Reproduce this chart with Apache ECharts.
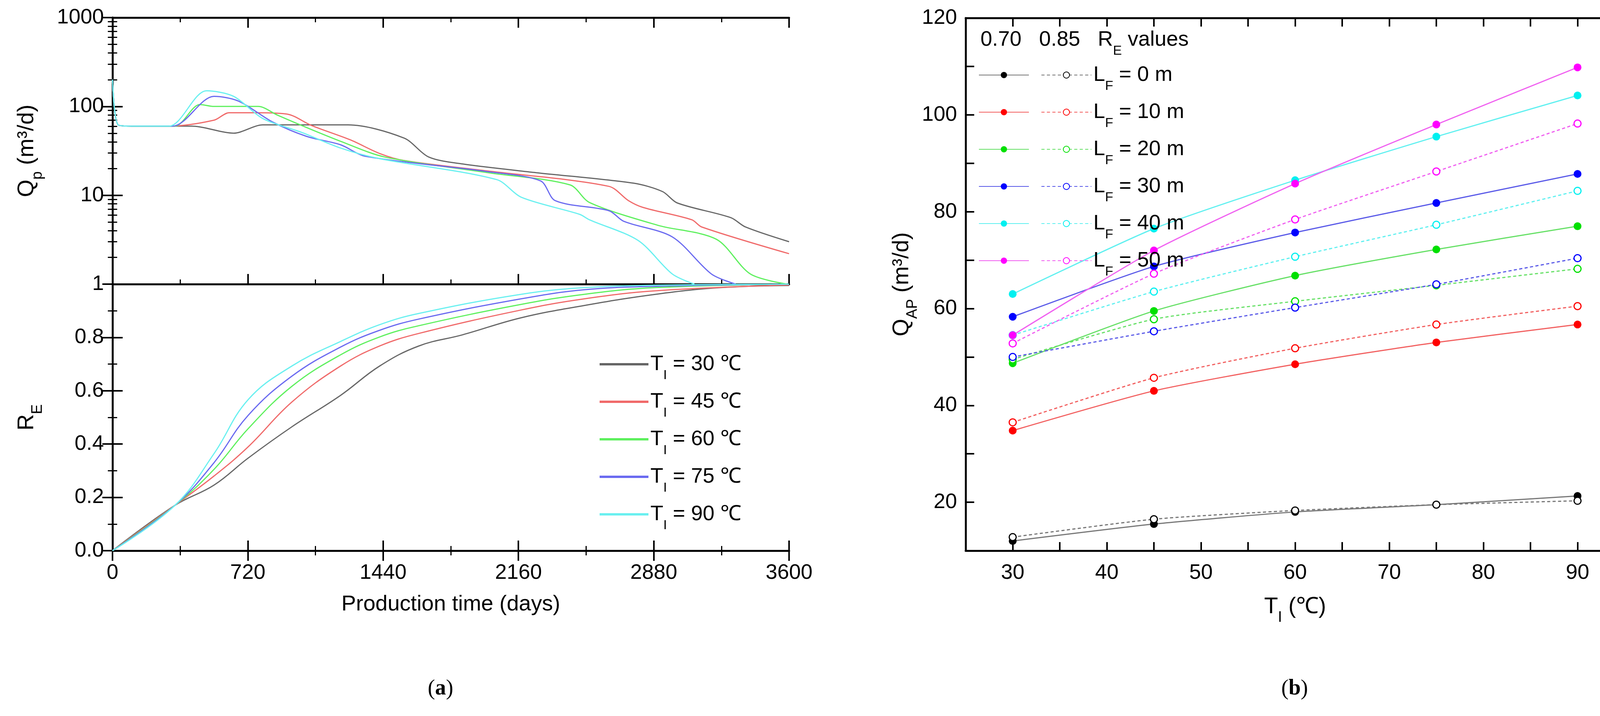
<!DOCTYPE html>
<html><head><meta charset="utf-8">
<script src="https://cdn.jsdelivr.net/npm/echarts@6/dist/echarts.min.js"></script>
<style>html,body{margin:0;background:#fff}#c{width:4186px;height:1832px}</style>
</head><body><div id="c"></div>
<script>
// ---------- Panel (a) data ----------
const tempLabels = ['30','45','60','75','90'];
const qp30 = [[0,200],[30,62],[100,60],[300,60],[423,60],[644,50],[800,62],[1000,62],[1253,62],[1552,44],[1682,27],[1863,22.5],[2252,18],[2771,13.7],[2927,11],[3005,8.2],[3290,5.6],[3368,4.4],[3600,3.0]];
const qp45 = [[0,200],[30,62],[100,60],[300,60],[540,70],[620,85],[775,85],[930,82],[1059,61],[1266,42],[1422,29.5],[1552,24.6],[1993,18.8],[2642,12.6],[2746,8.7],[2823,7.3],[3083,5.3],[3135,4.4],[3600,2.2]];
const qp60 = [[0,200],[30,62],[100,60],[330,60],[465,105],[540,100],[775,100],[877,80],[1007,61],[1214,40.5],[1448,27],[1993,18],[2434,13.1],[2538,8.3],[2901,4.6],[3213,3.2],[3394,1.3],[3590,1]];
const qp75 = [[0,200],[30,62],[100,60],[320,60],[540,130],[670,115],[851,67],[1033,46],[1214,37],[1344,27.5],[1993,18.5],[2278,14.5],[2356,8.7],[2642,6.7],[2720,5.1],[2979,3.4],[3187,1.3],[3316,1]];
const qp90 = [[0,200],[30,62],[100,60],[300,60],[500,150],[644,130],[800,73],[1007,51],[1214,34],[1422,25.8],[2045,15],[2175,9.5],[2486,6.1],[2538,5.3],[2797,3.1],[2979,1.3],[3096,1]];
const re30 = [[0,0],[332,0.17],[540,0.246],[721,0.347],[955,0.465],[1214,0.583],[1422,0.693],[1630,0.768],[1863,0.81],[2175,0.874],[2512,0.92],[2891,0.962],[3239,0.987],[3600,0.995]];
const re45 = [[0,0],[332,0.17],[540,0.28],[721,0.389],[955,0.558],[1214,0.693],[1422,0.768],[1630,0.815],[2175,0.903],[2512,0.945],[2891,0.975],[3600,0.997]];
const re60 = [[0,0],[332,0.17],[540,0.305],[721,0.457],[955,0.617],[1214,0.735],[1422,0.802],[1630,0.844],[2175,0.924],[2512,0.962],[2891,0.987],[3600,1]];
const re75 = [[0,0],[332,0.17],[540,0.33],[721,0.507],[955,0.655],[1214,0.764],[1422,0.827],[1630,0.869],[2175,0.945],[2512,0.979],[2891,0.992],[3600,1]];
const re90 = [[0,0],[332,0.17],[540,0.364],[721,0.566],[955,0.693],[1214,0.785],[1422,0.848],[1630,0.89],[2175,0.962],[2512,0.987],[2891,0.996],[3600,1]];
// ---------- Panel (b) data ----------
const tiValues = [30,45,60,75,90];
const lfLabels = ['0','10','20','30','40','50'];
const q070 = [
  [12,15.5,18,19.5,21.3],
  [34.8,43,48.5,53,56.7],
  [48.7,59.5,66.8,72.2,77],
  [58.3,68.7,75.7,81.8,87.8],
  [63,76.5,86.5,95.5,104],
  [54.5,72,85.8,98,109.8]];
const q085 = [
  [12.8,16.5,18.3,19.5,20.3],
  [36.5,45.7,51.8,56.7,60.5],
  [49.5,57.8,61.5,64.8,68.2],
  [50,55.3,60.2,65,70.4],
  [54.5,63.5,70.7,77.3,84.3],
  [52.8,67.2,78.4,88.3,98.2]];

const FONT = "'Liberation Sans Narrow','Liberation Sans',Arial,sans-serif";
const TF = "'Liberation Sans',Arial,sans-serif";
const aColors = ['#666666','#f06a6a','#5ef05e','#6a6af0','#6af0f0'];
const bLine = ['#777777','#f26060','#66e066','#5a5ae8','#60f0f0','#f060f0'];
const bMark = ['#000000','#ff0000','#00e000','#0000ff','#00f0f0','#ff00ff'];
const fs = 54;
const axLine = {lineStyle:{color:'#000',width:5}};
const tickIn = {show:true,inside:true,length:22,lineStyle:{color:'#000',width:4}};
const minorIn = {show:true,splitNumber:2,length:12,lineStyle:{color:'#000',width:3}};
const lbl = {fontFamily:FONT,fontSize:fs,color:'#000'};
const plain = v=>String(v);

const chart = echarts.init(document.getElementById('c'));
const qps=[qp30,qp45,qp60,qp75,qp90], res=[re30,re45,re60,re75,re90];
const series=[];
tempLabels.forEach((t,i)=>{
  series.push({name:'T'+t,type:'line',xAxisIndex:0,yAxisIndex:0,data:qps[i],showSymbol:false,smooth:0.3,lineStyle:{color:aColors[i],width:3},color:aColors[i]});
  series.push({name:'R'+t,type:'line',xAxisIndex:2,yAxisIndex:2,data:res[i],showSymbol:false,smooth:0.4,lineStyle:{color:aColors[i],width:3},color:aColors[i],z:3});
});
lfLabels.forEach((l,i)=>{
  series.push({name:'s'+l,type:'line',xAxisIndex:4,yAxisIndex:4,data:tiValues.map((x,j)=>[x,q070[i][j]]),smooth:0.2,
    symbol:'circle',symbolSize:20,itemStyle:{color:bMark[i]},lineStyle:{color:bLine[i],width:3}});
  series.push({name:'d'+l,type:'line',xAxisIndex:4,yAxisIndex:4,data:tiValues.map((x,j)=>[x,q085[i][j]]),smooth:0.2,
    symbol:'circle',symbolSize:18,itemStyle:{color:'#fff',borderColor:bMark[i],borderWidth:3},lineStyle:{color:bLine[i],width:3,type:[8,6]}});
});
const mkRich = (c)=>({t:{fontFamily:FONT,fontSize:fs,color:c,lineHeight:60},s:{fontFamily:FONT,fontSize:34,color:c,verticalAlign:'bottom',lineHeight:60,padding:[0,0,-16,0]}});
const subRich = mkRich('#000');
const titleRich = {t:{fontFamily:TF,fontSize:58,color:'#000'},s:{fontFamily:TF,fontSize:38,color:'#000',verticalAlign:'bottom',padding:[0,0,-18,0]}};
chart.setOption({
  animation:false,
  grid:[
    {left:288,width:1732,top:45,height:682},
    {left:288,width:1732,top:727,height:682},
    {left:2472,width:1687,top:46,height:1363}],
  xAxis:[
    {gridIndex:0,type:'value',min:0,max:3600,interval:720,position:'bottom',axisLine:axLine,axisTick:{...tickIn,length:26},minorTick:minorIn,axisLabel:{show:false},splitLine:{show:false}},
    {gridIndex:0,type:'value',min:0,max:3600,interval:720,position:'top',axisLine:axLine,axisTick:{...tickIn,length:26},minorTick:minorIn,axisLabel:{show:false},splitLine:{show:false}},
    {gridIndex:1,type:'value',min:0,max:3600,interval:720,position:'bottom',axisLine:axLine,axisTick:{...tickIn,length:26},minorTick:minorIn,axisLabel:{...lbl,margin:30,formatter:plain},splitLine:{show:false},
      name:'Production time (days)',nameLocation:'middle',nameGap:110,nameTextStyle:{fontFamily:TF,fontSize:56,color:'#000'}},
    {gridIndex:1,type:'value',min:0,max:3600,interval:720,position:'top',axisLine:axLine,axisTick:{...tickIn,length:26},minorTick:minorIn,axisLabel:{show:false},splitLine:{show:false}},
    {gridIndex:2,type:'value',min:25,max:95,interval:5,position:'bottom',axisLine:axLine,axisTick:tickIn,axisLabel:{...lbl,margin:30,formatter:v=>v%10===0?String(v):''},splitLine:{show:false},
      name:'{t|T}{s|I}{t| (℃)}',nameLocation:'middle',nameGap:115,nameTextStyle:{rich:titleRich}},
    {gridIndex:2,type:'value',min:25,max:95,interval:5,position:'top',axisLine:axLine,axisTick:tickIn,axisLabel:{show:false},splitLine:{show:false}}],
  yAxis:[
    {gridIndex:0,type:'log',min:1,max:1000,logBase:10,position:'left',axisLine:axLine,axisTick:{...tickIn,length:26},minorTick:{show:true,splitNumber:9,length:12,lineStyle:{color:'#000',width:3}},axisLabel:{...lbl,margin:22,formatter:plain},splitLine:{show:false},
      name:'{t|Q}{s|p}{t| (m³/d)}',nameLocation:'middle',nameGap:190,nameTextStyle:{rich:titleRich}},
    {gridIndex:0,type:'log',min:1,max:1000,logBase:10,position:'right',axisLine:axLine,axisTick:{...tickIn,length:26},minorTick:{show:true,splitNumber:9,length:12,lineStyle:{color:'#000',width:3}},axisLabel:{show:false},splitLine:{show:false}},
    {gridIndex:1,type:'value',min:0,max:1,interval:0.2,position:'left',axisLine:axLine,axisTick:{...tickIn,length:26},minorTick:minorIn,axisLabel:{...lbl,margin:22,formatter:v=>v>=1?'':v.toFixed(1)},splitLine:{show:false},
      name:'{t|R}{s|E}',nameLocation:'middle',nameGap:190,nameTextStyle:{rich:titleRich}},
    {gridIndex:1,type:'value',min:0,max:1,interval:0.2,position:'right',axisLine:axLine,axisTick:{...tickIn,length:26},minorTick:minorIn,axisLabel:{show:false},splitLine:{show:false}},
    {gridIndex:2,type:'value',min:10,max:120,interval:10,position:'left',axisLine:axLine,axisTick:tickIn,axisLabel:{...lbl,margin:22,formatter:v=>v%20===0?String(v):''},splitLine:{show:false},
      name:'{t|Q}{s|AP}{t| (m³/d)}',nameLocation:'middle',nameGap:115,nameTextStyle:{rich:titleRich}},
    {gridIndex:2,type:'value',min:10,max:120,interval:10,position:'right',axisLine:axLine,axisTick:tickIn,axisLabel:{show:false},splitLine:{show:false}}],
  legend:[
    {data:tempLabels.map(t=>'R'+t),orient:'vertical',left:1530,top:900,itemWidth:125,itemHeight:6,itemGap:23,icon:'rect',
      formatter:n=>'{t|T}{s|I}{t| = '+n.slice(1)+' ℃}',textStyle:{rich:subRich}},
    {data:lfLabels.map(l=>'s'+l),orient:'vertical',left:2500,top:160,itemWidth:128,itemHeight:20,itemGap:22,
      formatter:n=>'{t|L}{s|F}{t| = '+n.slice(1)+' m}',textStyle:{rich:mkRich('rgba(0,0,0,0)')}},
    {data:lfLabels.map(l=>'d'+l),orient:'vertical',left:2660,top:160,itemWidth:128,itemHeight:20,itemGap:22,
      formatter:n=>'{t|L}{s|F}{t| = '+n.slice(1)+' m}',textStyle:{rich:subRich}}],
  graphic:[
    {type:'text',left:2510,top:75,style:{rich:subRich,text:'{t|0.70   0.85   R}{s|E}{t| values}'}},
    {type:'text',left:1095,top:1735,style:{rich:{p:{fontFamily:'Liberation Serif,serif',fontSize:56},b:{fontFamily:'Liberation Serif,serif',fontSize:56,fontWeight:'bold'}},text:'{p|(}{b|a}{p|)}'}},
    {type:'text',left:3280,top:1735,style:{rich:{p:{fontFamily:'Liberation Serif,serif',fontSize:56},b:{fontFamily:'Liberation Serif,serif',fontSize:56,fontWeight:'bold'}},text:'{p|(}{b|b}{p|)}'}}],
  series
});
</script></body></html>
